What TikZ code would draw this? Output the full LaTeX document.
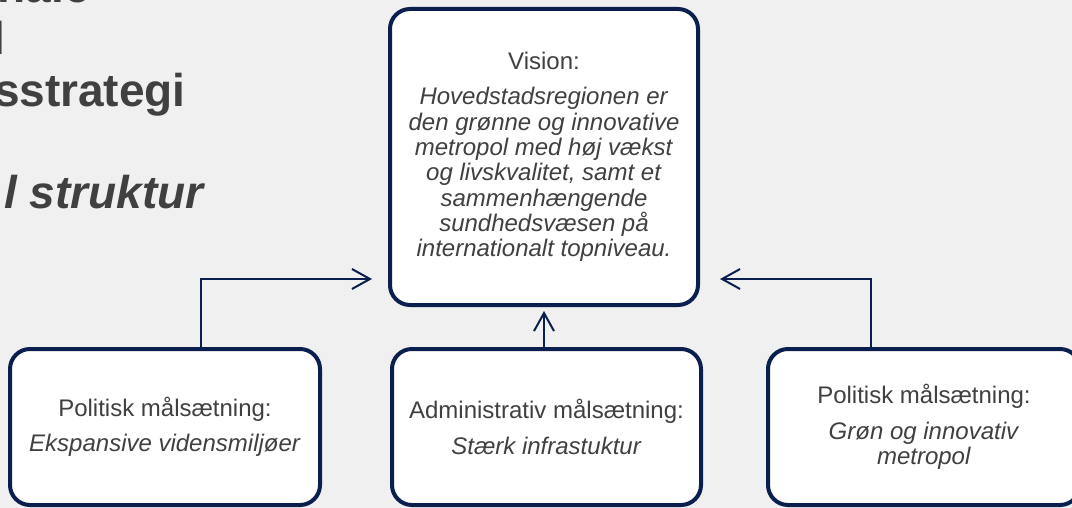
\documentclass[tikz,border=0pt]{standalone}
\usepackage{fontspec}
\setmainfont{Liberation Sans}
\usetikzlibrary{arrows.meta}
\definecolor{navy}{HTML}{0B1F4F}
\definecolor{txt}{HTML}{404040}
\definecolor{bg}{HTML}{F0F0F0}
\begin{document}
\begin{tikzpicture}[x=1pt,y=-1pt,
  box/.style={draw=navy, line width=4pt, fill=white, rounded corners=20pt,
    outer sep=0pt, inner sep=0pt, align=center, text=txt,
    font=\fontsize{24}{25.3}\selectfont},
  conn/.style={draw=navy, line width=2pt,
    -{Straight Barb[length=18pt,width=20pt]}},
  title/.style={text=txt, inner sep=0pt, anchor=base east,
    font=\fontsize{46}{50}\selectfont\bfseries}]
\clip (0,0) rectangle (1072,508);
\fill[bg] (0,0) rectangle (1072,508);

% title fragments (cut off at the left edge)
\node[title] (t1) at (90,3) {nale};
\node[title] (t2) at (5,55) {l};
\node[title] (t3) at (186,107) {sstrategi};
\node[title, font=\fontsize{46}{50}\selectfont\bfseries\itshape] (t4) at (204,209) {l struktur};

% boxes
\node[box, minimum width=308pt, minimum height=296pt] (vision) at (544,157)
  {Vision:\\[10pt]
   \textit{Hovedstadsregionen er}\\
   \textit{den grønne og innovative}\\
   \textit{metropol med høj vækst}\\
   \textit{og livskvalitet, samt et}\\
   \textit{sammenhængende}\\
   \textit{sundhedsvæsen på}\\
   \textit{internationalt topniveau.}};

\node[box, minimum width=310pt, minimum height=156pt] (left) at (165,427)
  {Politisk målsætning:\\[10pt]\textit{Ekspansive vidensmiljøer}};

\node[box, minimum width=309pt, minimum height=156pt] (mid) at (546.5,427)
  {Administrativ målsætning:\\[10pt]\textit{Stærk infrastuktur}};

\node[box, minimum width=312pt, minimum height=156pt] (right) at (924,427)
  {Politisk målsætning:\\[10pt]\textit{Grøn og innovativ}\\\textit{metropol}};

% connectors
\coordinate (lx) at (201,279);
\coordinate (rx) at (871,279);
\coordinate (mx) at (544,0);
\draw[conn, shorten >=18pt] (left.north -| lx) |- (lx -| vision.west);
\draw[conn, shorten >=22pt] (right.north -| rx) |- (rx -| vision.east);
\draw[conn, shorten >=6pt] (mid.north -| mx) -- (vision.south -| mx);
\end{tikzpicture}
\end{document}
